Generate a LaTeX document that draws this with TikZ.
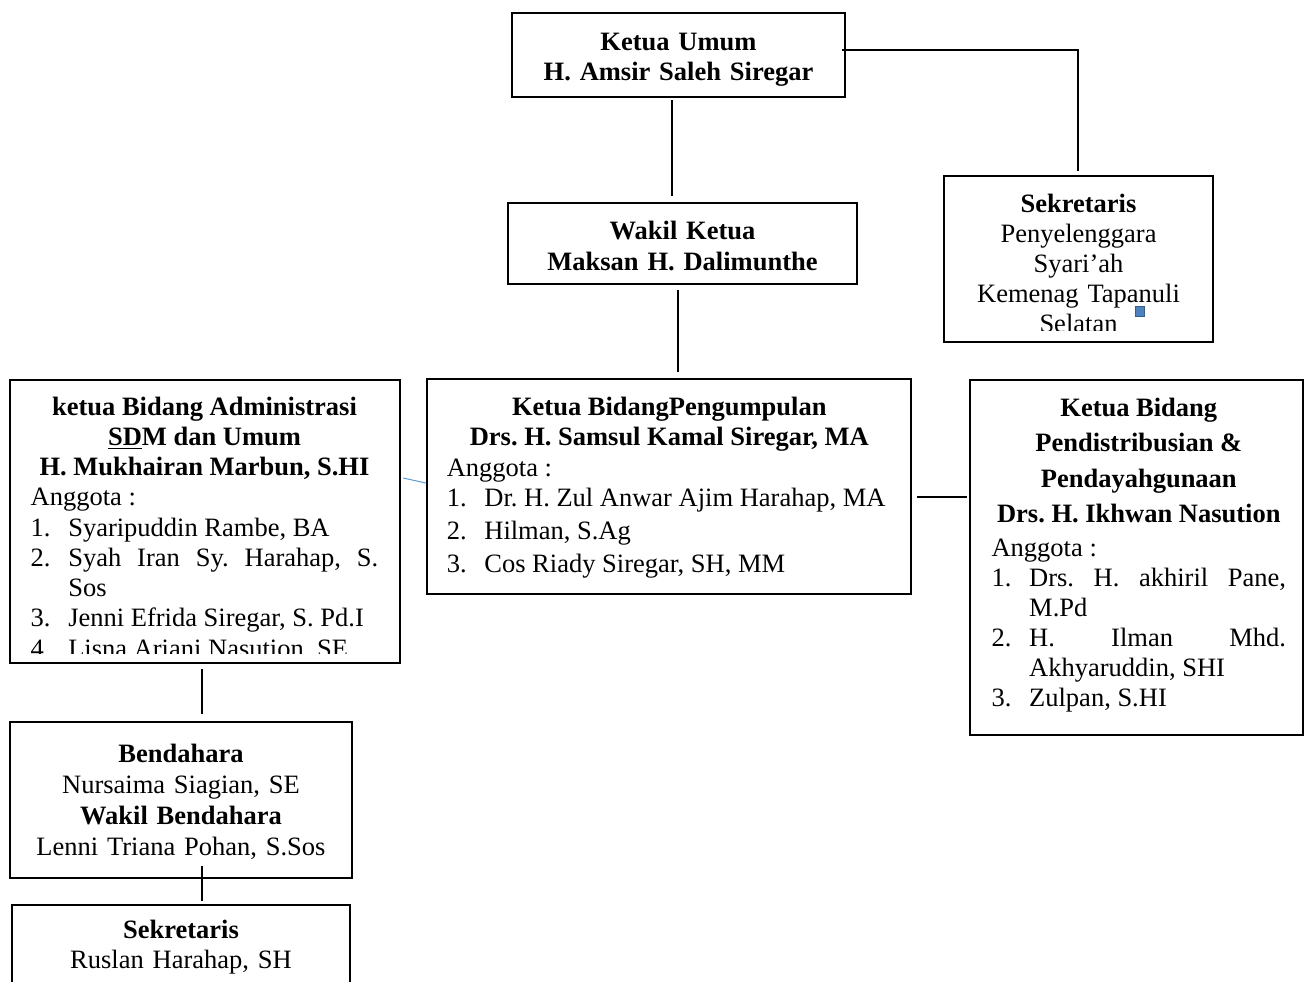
\documentclass[tikz,border=0pt]{standalone}
\usepackage{fontspec}
\setmainfont{Liberation Serif}
\usetikzlibrary{calc}
\frenchspacing
\definecolor{birumuda}{RGB}{91,155,213}
\definecolor{biruisi}{RGB}{79,129,189}
\definecolor{birutepi}{RGB}{56,93,138}
\newlength{\indenbutir}\setlength{\indenbutir}{18.8pt}
\newcommand{\butir}[2]{\par\noindent\hangindent=\indenbutir\hangafter=1\makebox[\indenbutir][l]{#1.}#2\par}
\newcommand{\judul}[1]{{\centering\bfseries #1\par}}
\tikzset{
x=0.5pt, y=-0.5pt, % one unit is one pixel of the layout, y grows downwards
kotak/.style={draw, line width=1.2pt, inner sep=0pt}, % frame of every box
isi/.style={anchor=base, inner sep=0pt, align=justify, font=\fontsize{13.25}{#1}\selectfont}, % text of a box, placed at its first baseline
isi/.default=15.2pt,
garis/.style={line width=1.1pt}, % black connector
garistipis/.style={draw=birumuda, line width=0.5pt}, % thin blue connector
}

\begin{document}
\begin{tikzpicture}
    \clip (0,0) rectangle (1307,981);

    % frames
    \node[kotak, minimum width=166.5pt, minimum height=42pt] (umum) at (678.5,55) {};
    \node[kotak, minimum width=174.5pt, minimum height=40.5pt] (wakil) at (682.5,243.5) {};
    \node[kotak, minimum width=134.5pt, minimum height=83pt] (sekum) at (1078.5,259) {};
    \node[kotak, minimum width=195pt, minimum height=141.5pt] (admin) at (205,521.5) {};
    \node[kotak, minimum width=242pt, minimum height=107.5pt] (kumpul) at (669,486.5) {};
    \node[kotak, minimum width=166.5pt, minimum height=177.5pt] (salur) at (1136.5,557.5) {};
    \node[kotak, minimum width=171pt, minimum height=78pt] (bendahara) at (181,800) {};
    \node[kotak, minimum width=169pt, minimum height=47.5pt] (sekben) at (181,952.5) {};

    % texts
    \node[isi=15pt, align=center, text width=160pt] (umumtxt) at (678.5,50.5) {\textbf{Ketua Umum}\\ \textbf{H. Amsir Saleh Siregar}};
    \node[isi=15.5pt, align=center, text width=168pt] (wakiltxt) at (682.5,239.5) {\textbf{Wakil Ketua}\\ \textbf{Maksan H. Dalimunthe}};
    \begin{scope}
    \clip (945,177) rectangle (1212,330);
    \node[isi=15pt, align=center, text width=125pt] (sekumtxt) at (1078.5,212) {\textbf{Sekretaris}\\ Penyelenggara\\ Syari’ah\\ Kemenag Tapanuli\\ Selatan};
    \end{scope}
    \fill[biruisi, draw=birutepi, line width=0.4pt] (1135,306) rectangle (1144,316);

    \begin{scope}
    \clip (11,381) rectangle (399,653);
    \node[isi=15.125pt, text width=173.8pt] (admintxt) at (204.5,415) {%
        \judul{ketua Bidang Administrasi}
        \judul{\underline{SD}M dan Umum}
        \judul{H. Mukhairan Marbun, S.HI}
        Anggota :\par
        \butir{1}{Syaripuddin Rambe, BA}
        \butir{2}{Syah Iran Sy. Harahap, S.\linebreak Sos}
        \butir{3}{Jenni Efrida Siregar, S. Pd.I}
        \butir{4}{Lisna Ariani Nasution, SE}};
    \end{scope}

    \node[isi=15.25pt, text width=222.5pt] (kumpultxt) at (669.3,415) {%
        \judul{Ketua BidangPengumpulan}
        \judul{Drs. H. Samsul Kamal Siregar, MA}
        Anggota :\par
        \butir{1}{Dr. H. Zul Anwar Ajim Harahap, MA}
        \vspace{1.25pt}\butir{2}{Hilman, S.Ag}
        \vspace{1.25pt}\butir{3}{Cos Riady Siregar, SH, MM}};

    \node[isi=15pt, text width=147.2pt] (salurtxt) at (1138.8,416.7) {%
        {\centering\bfseries\baselineskip=17.6pt Ketua Bidang\par Pendistribusian \&\par Pendayahgunaan\par Drs. H. Ikhwan Nasution\par}
        \vspace{2.2pt}Anggota :\par
        \butir{1}{Drs. H. akhiril Pane,\linebreak M.Pd}
        \butir{2}{H. Ilman Mhd.\linebreak Akhyaruddin, SHI}
        \butir{3}{Zulpan, S.HI}};

    \node[isi=15.4pt, align=center, text width=165pt] (bendtxt) at (181,762.7) {\textbf{Bendahara}\\ Nursaima Siagian, SE\\ \textbf{Wakil Bendahara}\\ Lenni Triana Pohan, S.Sos};
    \node[isi=15pt, align=center, text width=165pt] (sekbentxt) at (181,938.3) {\textbf{Sekretaris}\\ Ruslan Harahap, SH};

    % connectors
    \coordinate (belok) at (1078,50);
    \draw[garis] ($(umum.east)+(-4,-5)$) -- (belok) -- ($(sekum.north)+(-0.5,-4)$);
    \draw[garis] ($(umum.south)+(-6.5,2)$) -- ($(wakil.north)+(-10.5,-6)$);
    \draw[garis] ($(wakil.south)+(-4.5,5)$) -- ($(kumpul.north)+(9,-6)$);
    \draw[garis] ($(kumpul.east)+(5,10.5)$) -- ($(salur.west)+(-2,-60.5)$);
    \draw[garistipis] ($(admin.east)+(2,-43.5)$) -- ($(kumpul.west)+(0,-3.5)$);
    \draw[garis] ($(admin.south)+(-3,5)$) -- ($(bendahara.north)+(21,-7)$);
    \draw[garis] ($(bendahara.south)+(21,-13)$) -- ($(sekben.north)+(21,-3)$);
\end{tikzpicture}
\end{document}
